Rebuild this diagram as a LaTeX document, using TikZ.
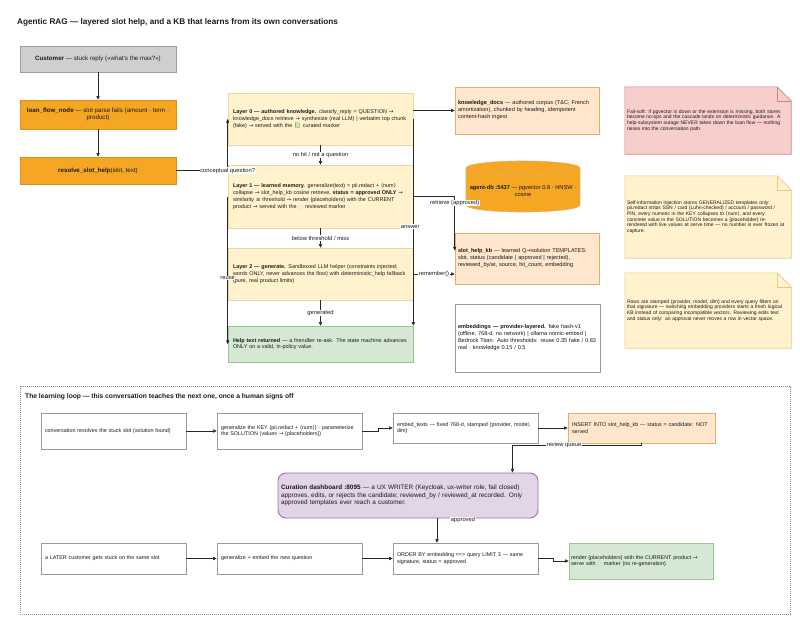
\documentclass[tikz,border=0pt]{standalone}
\usepackage{fontspec}
\setmainfont{Liberation Sans}
\newfontfamily\djv{DejaVu Sans}
\newfontfamily\emo{Noto Emoji}
\usetikzlibrary{calc,arrows.meta,backgrounds}
\definecolor{txt}{HTML}{1A1A1A}
\definecolor{gfill}{HTML}{CFCFCF}\definecolor{gline}{HTML}{9E9E9E}
\definecolor{ofill}{HTML}{F5A623}\definecolor{oline}{HTML}{D9901A}
\definecolor{yfill}{HTML}{FFF2CC}\definecolor{yline}{HTML}{E8D8A8}
\definecolor{pfill}{HTML}{FFE6CC}\definecolor{pline}{HTML}{E0B070}
\definecolor{grfill}{HTML}{D5E8D4}\definecolor{grline}{HTML}{9CC490}
\definecolor{vfill}{HTML}{E1D5E7}\definecolor{vline}{HTML}{9673A6}
\definecolor{rfill}{HTML}{F8CECC}\definecolor{rline}{HTML}{C88A88}
\definecolor{nfill}{HTML}{FFF2CC}\definecolor{nline}{HTML}{E0CC8A}
\definecolor{wline}{HTML}{9A9A9A}
\definecolor{emg}{HTML}{6AA84F}
\newcommand{\myla}{{\djv ⟨}}
\newcommand{\myra}{{\djv ⟩}}
\newcommand{\rarr}{{\djv →}}
\newcommand{\geqs}{{\djv ≥}}
\newcommand{\ringmark}{{\color{black!22}\djv ○}}
\newcommand{\fbody}{\fontsize{5.45}{6.7}\selectfont}
\newcommand{\fleft}{\fontsize{6.2}{7.3}\selectfont}
\newcommand{\fright}{\fontsize{5.6}{7.0}\selectfont}
\newcommand{\fnote}{\fontsize{5.0}{5.6}\selectfont}
\newcommand{\fsm}{\fontsize{5.4}{6.6}\selectfont}
\newcommand{\flbl}{\fontsize{5.8}{6.6}\selectfont}
\tikzset{
  every node/.style={text=txt},
  bx/.style={draw, line width=0.6pt, inner xsep=5pt, inner ysep=0pt, align=left, font=\fbody},
  wbx/.style={bx, fill=white, draw=wline, font=\fsm, inner xsep=4pt},
  notebox/.style={inner xsep=2pt, inner ysep=0pt, align=left, font=\fnote},
  arr/.style={-{Triangle[length=3.6pt,width=3.2pt]}, draw=black!85, line width=0.6pt},
  lbl/.style={fill=white, inner sep=0.5pt, font=\flbl}
}
\begin{document}
\begin{tikzpicture}[x=1pt,y=-1pt]
\useasboundingbox (0,0) rectangle (800,624);

% title
\node[anchor=west, font=\fontsize{8.2}{10}\selectfont\bfseries, inner sep=0pt] (title) at (17,22)
  {Agentic RAG — layered slot help, and a KB that learns from its own conversations};

% left column
\node[bx, font=\fleft, fill=gfill, draw=gline, minimum width=156, minimum height=26, align=center] (C) at (98,59)
  {\textbf{Customer} — stuck reply («what’s the max?»)};
\node[bx, font=\fleft, fill=ofill, draw=oline, minimum width=156, minimum height=29, align=center] (LF) at (98,114.5)
  {\textbf{loan\_flow\_node} — slot parse fails (amount · term ·\\product)};
\node[bx, font=\fleft, fill=ofill, draw=oline, minimum width=156, minimum height=27, align=center] (R) at (98,170.5)
  {\textbf{resolve\_slot\_help}(slot, text)};

% layers
\node[bx, fill=yfill, draw=yline, minimum width=185, minimum height=52, text width=175] (L0) at (320.5,119)
  {\textbf{Layer 0 — authored knowledge.} classify\_reply = QUESTION \rarr\\
   knowledge\_docs retrieve \rarr{} synthesize (real LLM) | verbatim top chunk\\
   (fake) \rarr{} served with the {\emo\color{emg}📗} curated marker};
\node[bx, fill=yfill, draw=yline, minimum width=185, minimum height=63, text width=175] (L1) at (320.5,196.5)
  {\textbf{Layer 1 — learned memory.} generalize(text) = pii.redact + \myla num\myra\\
   collapse \rarr{} slot\_help\_kb cosine retrieve, \textbf{status = approved ONLY} \rarr\\
   similarity \geqs{} threshold \rarr{} render \{placeholders\} with the CURRENT\\
   product \rarr{} served with the \ringmark{} reviewed marker};
\node[bx, fill=yfill, draw=yline, minimum width=185, minimum height=52, text width=175] (L2) at (320.5,274)
  {\textbf{Layer 2 — generate.} Sandboxed LLM helper (constraints injected;\\
   words ONLY, never advances the flow) with deterministic\_help fallback\\
   (pure, real product limits)};
\node[bx, fill=grfill, draw=grline, minimum width=185, minimum height=36, text width=175] (H) at (320.5,344)
  {\textbf{Help text returned} — a friendlier re-ask. The state machine advances\\
   ONLY on a valid, in-policy value.};

% right column
\node[bx, font=\fright, fill=pfill, draw=pline, minimum width=144, minimum height=47, text width=138, inner xsep=3pt] (KD) at (527,110.5)
  {\textbf{knowledge\_docs} — authored corpus (T\&C, French\\
   amortization), chunked by heading, idempotent\\
   content-hash ingest};
% cylinder
\fill[ofill] (466,168) rectangle (580,205);
\fill[ofill] (523,205) ellipse [x radius=57, y radius=7];
\draw[oline!70, line width=0.6pt] (466,168) -- (466,205) arc[start angle=180, end angle=0, x radius=57, y radius=7] -- (580,168);
\filldraw[fill=ofill, draw=oline!70, line width=0.6pt] (523,168) ellipse [x radius=57, y radius=7];
\node[font=\fontsize{5.7}{7}\selectfont, align=center, inner sep=0pt] (DB) at (523,191)
  {\textbf{agent-db :5437} — pgvector 0.8 · HNSW ·\\cosine};
\node[bx, font=\fright, fill=pfill, draw=pline, minimum width=144, minimum height=51, text width=138, inner xsep=3pt] (KB) at (527,258.5)
  {\textbf{slot\_help\_kb} — learned Q\rarr{}solution TEMPLATES:\\
   slot, status (candidate | approved | rejected),\\
   reviewed\_by/at, source, hit\_count, embedding};
\node[bx, font=\fright, fill=white, draw=wline, minimum width=145, minimum height=68, text width=139, inner xsep=3pt] (EMB) at (527.5,338)
  {\textbf{embeddings — provider-layered.} fake hash-v1\\
   (offline, 768-d, no network) | ollama nomic-embed |\\
   Bedrock Titan. Auto thresholds: reuse 0.35 fake / 0.83\\
   real · knowledge 0.15 / 0.5};

% notes
\node[notebox, minimum width=166, minimum height=67, text width=162] (N1) at (708,120.5)
  {Fail-soft: if pgvector is down or the extension is missing, both stores\\
   become no-ops and the cascade lands on deterministic guidance. A\\
   help-subsystem outage NEVER takes down the loan flow — nothing\\
   raises into the conversation path.};
\node[notebox, minimum width=166, minimum height=82, text width=162] (N2) at (708,217)
  {Self-information injection stores GENERALIZED templates only:\\
   pii.redact strips SSN / card (Luhn-checked) / account / password /\\
   PIN, every numeric in the KEY collapses to \myla num\myra, and every\\
   concrete value in the SOLUTION becomes a \{placeholder\} re-\\
   rendered with live values at serve time — no number is ever frozen at\\
   capture.};
\node[notebox, minimum width=166, minimum height=75, text width=162] (N3) at (708,310.5)
  {Rows are stamped (provider, model, dim) and every query filters on\\
   that signature — switching embedding providers starts a fresh logical\\
   KB instead of comparing incompatible vectors. Reviewing edits text\\
   and status only: an approval never moves a row in vector space.};
\begin{scope}[on background layer]
\foreach \n/\f/\l in {N1/rfill/rline, N2/nfill/nline, N3/nfill/nline}{
  \filldraw[fill=\f, draw=\l, line width=0.6pt] (\n.north west) -- ($(\n.north east)+(-14,0)$) -- ($(\n.north east)+(0,14)$) -- (\n.south east) -- (\n.south west) -- cycle;
  \draw[draw=\l, line width=0.6pt] ($(\n.north east)+(-14,0)$) -- ($(\n.north east)+(-14,14)$) -- ($(\n.north east)+(0,14)$);
}
\end{scope}

% top edges
\draw[arr] (C) -- (LF);
\draw[arr] (LF) -- (R);
\draw[arr] (R.east) -| (L0.west) node[lbl, pos=0.5] {conceptual question?};
\draw[arr] (L0) -- (L1) node[lbl, midway] {no hit / not a question};
\draw[arr] (L1) -- (L2) node[lbl, midway] {below threshold / miss};
\draw[arr] (L2) -- (H) node[lbl, midway] {generated};
\draw[arr] (L0.east |- KD.west) -- (KD.west);
\coordinate (kbin) at ($(KB.west)+(0,-8)$);
\draw[arr] (L1.east) -| (kbin) node[lbl, pos=0.56] {retrieve (approved)};
\draw[arr] (L2.east) -- (L2.east -| KB.west) node[lbl, midway] {remember()};
\draw[arr] (L0.east) -- (L0.east |- H.north) node[lbl, pos=0.52, xshift=-3pt] {answer};
\draw[arr] (L1.west) -- (L1.west |- H.west) node[lbl, pos=0.55] {reuse};

% learning loop frame
\draw[black!45, line width=0.6pt, dash pattern=on 0.8pt off 1.2pt] (20,386) rectangle (790,614);
\node[anchor=west, inner sep=0pt, font=\fontsize{6.7}{8}\selectfont\bfseries] (LT) at (25,397)
  {The learning loop — this conversation teaches the next one, once a human signs off};

\node[wbx, minimum width=145, minimum height=36, text width=137] (B1) at (113.5,431)
  {conversation resolves the stuck slot (solution found)};
\node[wbx, minimum width=145, minimum height=36, text width=137] (B2) at (289.5,431)
  {generalize the KEY (pii.redact + \myla num\myra) · parameterize\\
   the SOLUTION (values \rarr{} \{placeholders\})};
\node[wbx, minimum width=145, minimum height=30, text width=137] (B3) at (465.5,428)
  {embed\_texts — fixed 768-d, stamped (provider, model,\\dim)};
\node[wbx, fill=pfill, draw=pline, minimum width=147, minimum height=30, text width=139] (B4) at (641.5,428)
  {INSERT INTO slot\_help\_kb — status = candidate: NOT\\served};
\node[bx, font=\fontsize{6.4}{7.8}\selectfont, fill=vfill, draw=vline, line width=0.9pt, rounded corners=8pt, minimum width=260, minimum height=45, text width=254, inner xsep=3pt] (CUR) at (408,495.5)
  {\textbf{Curation dashboard :8095} — a UX WRITER (Keycloak, ux-writer role, fail closed)\\
   approves, edits, or rejects the candidate; reviewed\_by / reviewed\_at recorded. Only\\
   approved templates ever reach a customer.};
\node[wbx, minimum width=145, minimum height=31, text width=137] (B5) at (113.5,558.5)
  {a LATER customer gets stuck on the same slot};
\node[wbx, minimum width=145, minimum height=31, text width=137] (B6) at (289.5,558.5)
  {generalize + embed the new question};
\node[wbx, minimum width=145, minimum height=31, text width=137] (B7) at (465.5,558.5)
  {ORDER BY embedding <=> query LIMIT 3 — same\\signature, status = approved};
\node[wbx, fill=grfill, draw=grline, minimum width=144, minimum height=36, text width=140, inner xsep=2pt] (B8) at (641,561)
  {render \{placeholders\} with the CURRENT product \rarr\\
   serve with \ringmark{} marker (no re-generation)};

% loop edges
\draw[arr] (B1) -- (B2);
\draw[arr] (B2.east) -- ++(16,0) |- (B3.west);
\draw[arr] (B3) -- (B4);
\coordinate (curin) at ($(CUR.north east)+(-26,0)$);
\draw[arr] (B4.south) -- ++(0,2) -| (curin) node[lbl, pos=0.3] {review queue};
\coordinate (curout) at ($(CUR.south)+(29,0)$);
\draw[arr] (curout) -- (curout |- B7.north);
\node[lbl] (APL) at ($(CUR.south)+(55,1.5)$) {approved};
\draw[arr] (B5) -- (B6);
\draw[arr] (B6) -- (B7);
\draw[arr] (B7.east) -- ++(15,0) |- (B8.west);
\end{tikzpicture}
\end{document}
